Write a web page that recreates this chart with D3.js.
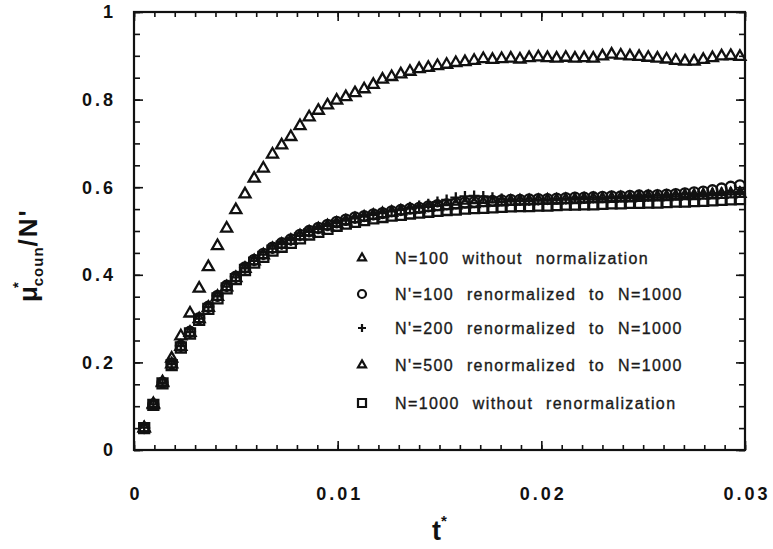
<!DOCTYPE html>
<html>
<head>
<meta charset="utf-8">
<script src="https://cdn.jsdelivr.net/npm/d3@7"></script>
<style>
  body { margin: 0; background: #fff; }
  svg { display: block; }
</style>
</head>
<body>
<svg></svg>
<script>
// sampled times t*
const tValues = [0.00050, 0.00095, 0.00140, 0.00185, 0.00230, 0.00275, 0.00320, 0.00365, 0.00410, 0.00455,
  0.00500, 0.00545, 0.00590, 0.00635, 0.00680, 0.00725, 0.00770, 0.00815, 0.00860, 0.00905,
  0.00950, 0.00995, 0.01040, 0.01085, 0.01130, 0.01175, 0.01220, 0.01265, 0.01310, 0.01355,
  0.01400, 0.01445, 0.01490, 0.01535, 0.01580, 0.01625, 0.01670, 0.01715, 0.01760, 0.01805,
  0.01850, 0.01895, 0.01940, 0.01985, 0.02030, 0.02075, 0.02120, 0.02165, 0.02210, 0.02255,
  0.02300, 0.02345, 0.02390, 0.02435, 0.02480, 0.02525, 0.02570, 0.02615, 0.02660, 0.02705,
  0.02750, 0.02795, 0.02840, 0.02885, 0.02930, 0.02975]

// N=100 without normalization (triangles, upper curve)
const n100 = [0.050, 0.105, 0.155, 0.209, 0.260, 0.312, 0.369, 0.418, 0.466, 0.506,
  0.548, 0.584, 0.620, 0.643, 0.675, 0.696, 0.715, 0.740, 0.760, 0.775,
  0.787, 0.798, 0.806, 0.815, 0.824, 0.834, 0.846, 0.852, 0.858, 0.864,
  0.870, 0.873, 0.877, 0.880, 0.884, 0.886, 0.889, 0.893, 0.891, 0.893,
  0.894, 0.892, 0.895, 0.897, 0.895, 0.894, 0.896, 0.894, 0.895, 0.894,
  0.899, 0.903, 0.901, 0.899, 0.898, 0.896, 0.894, 0.892, 0.889, 0.887,
  0.887, 0.891, 0.895, 0.899, 0.900, 0.898]

// N'=100 renormalized to N=1000 (circles)
const n100r = [0.050, 0.104, 0.154, 0.197, 0.238, 0.270, 0.301, 0.327, 0.352, 0.375,
  0.396, 0.417, 0.434, 0.448, 0.462, 0.472, 0.481, 0.491, 0.500, 0.507,
  0.514, 0.521, 0.526, 0.531, 0.534, 0.538, 0.541, 0.545, 0.548, 0.551,
  0.553, 0.556, 0.559, 0.561, 0.563, 0.565, 0.566, 0.568, 0.569, 0.570,
  0.571, 0.571, 0.572, 0.573, 0.573, 0.574, 0.575, 0.576, 0.576, 0.577,
  0.578, 0.579, 0.579, 0.580, 0.581, 0.581, 0.582, 0.583, 0.584, 0.586,
  0.588, 0.590, 0.593, 0.597, 0.601, 0.604]

// N'=200 renormalized to N=1000 (plus)
const n200r = [0.051, 0.104, 0.153, 0.196, 0.237, 0.269, 0.300, 0.326, 0.351, 0.373,
  0.394, 0.415, 0.432, 0.446, 0.460, 0.470, 0.479, 0.489, 0.498, 0.505,
  0.512, 0.518, 0.524, 0.529, 0.533, 0.537, 0.541, 0.545, 0.549, 0.553,
  0.557, 0.561, 0.566, 0.571, 0.576, 0.579, 0.580, 0.579, 0.576, 0.573,
  0.571, 0.570, 0.570, 0.571, 0.572, 0.573, 0.573, 0.574, 0.575, 0.576,
  0.576, 0.577, 0.578, 0.579, 0.580, 0.580, 0.581, 0.582, 0.583, 0.584,
  0.584, 0.585, 0.586, 0.587, 0.588, 0.589]

// N'=500 renormalized to N=1000 (triangles, lower curve)
const n500r = [0.050, 0.103, 0.153, 0.196, 0.236, 0.268, 0.299, 0.325, 0.350, 0.372,
  0.393, 0.414, 0.431, 0.445, 0.459, 0.469, 0.478, 0.488, 0.497, 0.504,
  0.511, 0.517, 0.522, 0.527, 0.531, 0.535, 0.539, 0.542, 0.545, 0.548,
  0.550, 0.553, 0.555, 0.557, 0.559, 0.561, 0.562, 0.564, 0.565, 0.566,
  0.567, 0.568, 0.568, 0.569, 0.570, 0.570, 0.571, 0.571, 0.572, 0.573,
  0.573, 0.574, 0.575, 0.575, 0.576, 0.577, 0.577, 0.578, 0.579, 0.580,
  0.580, 0.581, 0.582, 0.583, 0.584, 0.585]

// N=1000 without renormalization (squares)
const n1000 = [0.050, 0.103, 0.152, 0.194, 0.234, 0.266, 0.297, 0.322, 0.346, 0.369,
  0.390, 0.411, 0.428, 0.441, 0.455, 0.464, 0.473, 0.483, 0.492, 0.498,
  0.505, 0.512, 0.517, 0.521, 0.525, 0.529, 0.532, 0.535, 0.537, 0.540,
  0.542, 0.544, 0.546, 0.548, 0.549, 0.551, 0.552, 0.553, 0.554, 0.555,
  0.556, 0.557, 0.557, 0.558, 0.558, 0.559, 0.560, 0.560, 0.561, 0.561,
  0.562, 0.563, 0.563, 0.564, 0.564, 0.565, 0.565, 0.566, 0.567, 0.567,
  0.568, 0.569, 0.570, 0.571, 0.572, 0.573]

const xTicks = [0, 0.01, 0.02, 0.03]
const yTicks = [0, 0.2, 0.4, 0.6, 0.8, 1]
const legendLabels = ["N=100 without normalization", "N'=100 renormalized to N=1000",
  "N'=200 renormalized to N=1000", "N'=500 renormalized to N=1000", "N=1000 without renormalization"]
const legendShapes = ["triangle", "circle", "plus", "triangle", "square"]

const svg = d3.select("svg").attr("width", 773).attr("height", 549),
  margin = {top: 12, right: 28, bottom: 99, left: 134},
  width = 773 - margin.left - margin.right,
  height = 549 - margin.top - margin.bottom,
  chart = svg.append("g").attr("transform", `translate(${margin.left},${margin.top})`)

const x = d3.scaleLinear().domain([0, 0.03]).range([0, width]),
      y = d3.scaleLinear().domain([0, 1]).range([height, 0])

const font = "'Liberation Sans', Arial, Helvetica, sans-serif"

// marker path generators
const marker = (shape, s) => {
  if (shape === "triangle") return d3.symbol(d3.symbolTriangle, s * s * 0.433)()
  if (shape === "circle") return d3.symbol(d3.symbolCircle, Math.PI * s * s / 4)()
  if (shape === "square") return d3.symbol(d3.symbolSquare, s * s)()
  const h = s / 2
  return `M${-h},0H${h}M0,${-h}V${h}`
}

// inward ticks on all four sides
const xMinor = d3.range(0, 31).map(i => i / 1000),
      yMinor = d3.range(0, 21).map(i => i / 20)

chart.append("g").call(d3.axisBottom(x).tickValues(xMinor).tickSize(-5).tickFormat(""))
  .attr("transform", `translate(0,${height})`)
chart.append("g").call(d3.axisBottom(x).tickValues(xTicks).tickSize(-9).tickFormat(""))
  .attr("transform", `translate(0,${height})`)
chart.append("g").call(d3.axisTop(x).tickValues(xMinor).tickSize(-5).tickFormat(""))
chart.append("g").call(d3.axisTop(x).tickValues(xTicks).tickSize(-9).tickFormat(""))
chart.append("g").call(d3.axisLeft(y).tickValues(yMinor).tickSize(-6).tickFormat(""))
chart.append("g").call(d3.axisLeft(y).tickValues(yTicks).tickSize(-9).tickFormat(""))
chart.append("g").call(d3.axisRight(y).tickValues(yMinor).tickSize(-6).tickFormat(""))
  .attr("transform", `translate(${width},0)`)
chart.append("g").call(d3.axisRight(y).tickValues(yTicks).tickSize(-9).tickFormat(""))
  .attr("transform", `translate(${width},0)`)

chart.selectAll(".domain").remove()
chart.selectAll(".tick line").style("stroke", "#111").style("stroke-width", 1.6)

chart.append("rect").attr("x", 0).attr("y", 0).attr("width", width).attr("height", height)
  .style("fill", "none").style("stroke", "#111").style("stroke-width", 2.2)

// tick labels
chart.append("g").selectAll("text").data(xTicks).join("text")
  .text(d => d === 0 ? "0" : d3.format(".2f")(d))
  .attr("x", d => x(d) + 2).attr("y", height + 50)
  .style("text-anchor", "middle").style("font-family", font).style("font-weight", 700)
  .style("font-size", "18px").style("letter-spacing", "3px").style("fill", "#111")

chart.append("g").selectAll("text").data(yTicks).join("text")
  .text(d => d === 0 || d === 1 ? d : d3.format(".1f")(d))
  .attr("x", -18).attr("y", d => y(d)).attr("dy", "0.36em")
  .style("text-anchor", "end").style("font-family", font).style("font-weight", 700)
  .style("font-size", "18px").style("letter-spacing", "3px").style("fill", "#111")

// axis titles
const xt = svg.append("text").attr("x", 432).attr("y", 540)
  .style("font-family", font).style("font-weight", 700).style("font-size", "27px").style("fill", "#111")
xt.append("tspan").text("t")
xt.append("tspan").text("*").attr("dy", -14).style("font-size", "15px")

const yt = svg.append("text").attr("transform", "translate(37,302) rotate(-90)")
  .style("font-family", font).style("font-weight", 700).style("font-size", "26px").style("fill", "#111")
yt.append("tspan").text("μ")
yt.append("tspan").text("*").attr("dy", -14).attr("dx", -2).style("font-size", "15px")
yt.append("tspan").text("coun").attr("dy", 20).attr("dx", -4).style("font-size", "15px").style("letter-spacing", "1px")
yt.append("tspan").text("/N'").attr("dy", -6).style("letter-spacing", "2px")

// data series
const series = [
  {values: n100, shape: "triangle", size: 11},
  {values: n100r, shape: "circle", size: 10},
  {values: n500r, shape: "triangle", size: 11},
  {values: n200r, shape: "plus", size: 11},
  {values: n1000, shape: "square", size: 10}
]

series.forEach(s => {
  chart.append("g").selectAll("path")
    .data(tValues.map((t, i) => ({t: t, v: s.values[i]})))
    .join("path")
    .attr("d", marker(s.shape, s.size))
    .attr("transform", d => `translate(${x(d.t)},${y(d.v)})`)
    .style("fill", "none")
    .style("stroke", "#111").style("stroke-width", 2.3)
})

// legend
const rows = [0, 36, 70, 107, 145]
const legend = svg.append("g").attr("transform", "translate(362,258)")
legend.selectAll("path").data(legendShapes).join("path")
  .attr("d", d => marker(d, 8))
  .attr("transform", (d, i) => `translate(0,${rows[i]})`)
  .style("fill", "none").style("stroke", "#111").style("stroke-width", 2.2)

legend.selectAll("text").data(legendLabels).join("text")
  .text(d => d)
  .attr("x", 33).attr("y", (d, i) => rows[i]).attr("dy", "0.36em")
  .style("font-family", font).style("font-size", "16px").style("letter-spacing", "1.4px")
  .style("word-spacing", "7px").style("fill", "#1a1a1a")
  .style("stroke", "#1a1a1a").style("stroke-width", 0.35)
</script>
</body>
</html>
